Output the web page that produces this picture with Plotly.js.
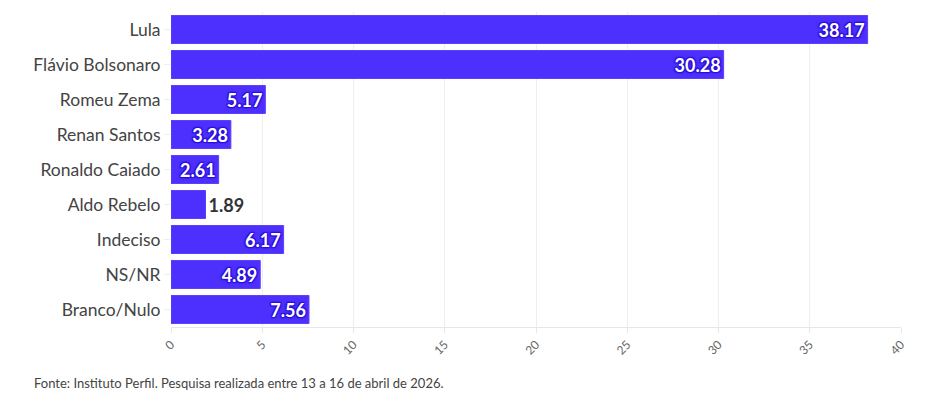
<!DOCTYPE html>
<html><head><meta charset="utf-8">
<script src="https://cdn.plot.ly/plotly-3.0.1.min.js"></script>
<style>html,body{margin:0;padding:0;background:#fff}#chart{width:938px;height:403px}</style>
</head><body><div id="chart"></div>
<script>
const categories = ["Lula","Flávio Bolsonaro","Romeu Zema","Renan Santos","Ronaldo Caiado","Aldo Rebelo","Indeciso","NS/NR","Branco/Nulo"];
const values = [38.17,30.28,5.17,3.28,2.61,1.89,6.17,4.89,7.56];
const tickVals = [0,5,10,15,20,25,30,35,40];
const source = "Fonte: Instituto Perfil. Pesquisa realizada entre 13 a 16 de abril de 2026.";

const FONT = "'Source Sans Pro', Lato, 'Noto Sans', sans-serif";
const positions = values.map(v => v < 2.5 ? "outside" : "inside");
const SH = "#2a0fd8";
const outline = `1px 1px 1px ${SH}, -1px -1px 1px ${SH}, 1px -1px 1px ${SH}, -1px 1px 1px ${SH}, 0px 0px 3px ${SH}`;

Plotly.newPlot("chart", [{
  type: "bar",
  orientation: "h",
  y: categories,
  x: values,
  text: values.map(v => v.toFixed(2)),
  textposition: positions,
  insidetextanchor: "end",
  cliponaxis: false,
  insidetextfont: {family: FONT, size: 18, color: "#ffffff", weight: 700, shadow: outline},
  outsidetextfont: {family: FONT, size: 18, color: "#333333", weight: 700, shadow: "none"},
  marker: {color: "#4d30fd", line: {color: "#5a40ff", width: 1}},
  hoverinfo: "none"
}], {
  width: 938, height: 403,
  margin: {l: 171, r: 37, t: 12, b: 76},
  paper_bgcolor: "#fff", plot_bgcolor: "#fff",
  bargap: 0.2,
  font: {family: FONT, color: "#444"},
  xaxis: {
    range: [0, 40], tickvals: tickVals, tickangle: -45,
    tickfont: {size: 12, color: "#666"},
    showgrid: true, gridcolor: "#eeeeee",
    zeroline: false, showline: true, linecolor: "#e6e6e6",
    ticks: "outside", ticklen: 5, tickcolor: "#e6e6e6"
  },
  yaxis: {
    autorange: "reversed",
    tickfont: {size: 17.5, color: "#444"},
    ticks: "outside", ticklen: 6, tickcolor: "#eeeeee",
    showgrid: false, zeroline: false
  },
  showlegend: false,
  annotations: [{
    text: source, xref: "paper", yref: "paper",
    x: (32 - 171) / 730, y: -56 / 315, xanchor: "left", yanchor: "middle",
    showarrow: false, font: {size: 13, color: "#444"}
  }]
}, {displayModeBar: false, staticPlot: true});
</script></body></html>
